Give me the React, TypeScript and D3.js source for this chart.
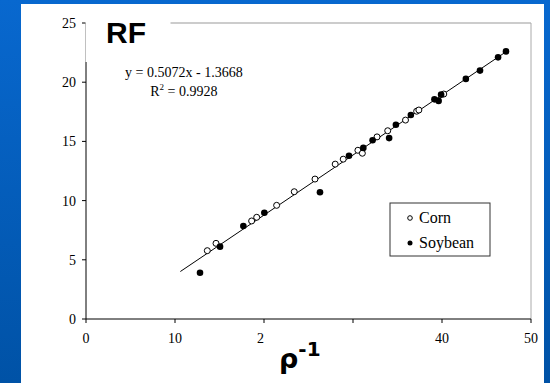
import React from 'react';
import * as d3 from 'd3';

// values
const cornX = [13.63, 14.61, 18.61, 19.18, 21.42, 23.4, 25.73, 28.0, 28.9, 30.55, 31.05, 32.7, 33.9, 35.9, 37.15, 37.4, 40.2];
const cornY = [5.77, 6.39, 8.28, 8.59, 9.6, 10.75, 11.82, 13.08, 13.5, 14.25, 14.0, 15.38, 15.9, 16.8, 17.55, 17.65, 19.0];
const soyX = [12.81, 15.06, 17.68, 20.04, 26.29, 29.55, 31.16, 32.2, 34.06, 34.82, 36.5, 39.15, 39.62, 39.9, 42.68, 44.27, 46.3, 47.19];
const soyY = [3.91, 6.11, 7.85, 8.98, 10.7, 13.79, 14.45, 15.1, 15.28, 16.41, 17.23, 18.55, 18.42, 18.95, 20.28, 20.98, 22.1, 22.6];
const fitSlope = 0.5072;
const fitIntercept = -1.3668;
const fitRange = [10.6, 47.3];
const xTicks = [0, 10, 20, 30, 40, 50];
const xTickLabels = ['0', '10', '2', '', '40', '50'];
const yTicks = [0, 5, 10, 15, 20, 25];

const W = 550;
const H = 383;
const margin = { top: 23, right: 19, bottom: 64, left: 86 };
const innerW = W - margin.left - margin.right;
const innerH = H - margin.top - margin.bottom;

const serif = '"Liberation Serif", "Times New Roman", serif';

export default function App() {
  const x = d3.scaleLinear().domain([0, 50]).range([0, innerW]);
  const y = d3.scaleLinear().domain([0, 25]).range([innerH, 0]);

  const corn = cornX.map((v, i) => ({ x: v, y: cornY[i] }));
  const soy = soyX.map((v, i) => ({ x: v, y: soyY[i] }));

  const fitLine = d3.line<number>()
    .x(d => x(d))
    .y(d => y(fitSlope * d + fitIntercept));

  return (
    <svg width={W} height={H} style={{ position: 'absolute', left: 0, top: 0 }}>
      <defs>
        <linearGradient id="bg" x1="0" y1="0" x2="0" y2="1">
          <stop offset="0" stopColor="#0868cf" />
          <stop offset="1" stopColor="#0052a6" />
        </linearGradient>
      </defs>
      <rect width={W} height={H} fill="url(#bg)" />
      <rect x={21} y={4} width={523} height={H - 4} fill="#fff" />

      <g transform={`translate(${margin.left},${margin.top})`}>
        {/* frame */}
        <line x1={0} x2={innerW} y1={0} y2={0} stroke="#999" />
        <line x1={innerW} x2={innerW} y1={0} y2={innerH} stroke="#aaa" />
        <line x1={0} x2={innerW} y1={innerH} y2={innerH} stroke="#000" />
        <line x1={0} x2={0} y1={0} y2={innerH} stroke="#000" />

        {/* y axis */}
        {yTicks.map(t => (
          <g key={'y' + t} transform={`translate(0,${y(t)})`}>
            <line x1={-4} x2={0} stroke="#000" />
            <text x={-10} dy="0.35em" textAnchor="end" fontFamily={serif} fontSize={14}>{t}</text>
          </g>
        ))}

        {/* x axis */}
        {xTicks.map((t, i) => (
          <g key={'x' + t} transform={`translate(${x(t)},${innerH})`}>
            <line y1={0} y2={4} stroke="#000" />
            <text y={24} textAnchor={xTickLabels[i] === '2' ? 'end' : 'middle'} fontFamily={serif} fontSize={14}>
              {xTickLabels[i]}
            </text>
          </g>
        ))}

        {/* regression line */}
        <path d={fitLine(fitRange) || ''} fill="none" stroke="#000" strokeWidth={1} />

        {corn.map((d, i) => (
          <circle key={'c' + i} cx={x(d.x)} cy={y(d.y)} r={3} fill="#fff" stroke="#000" strokeWidth={1} />
        ))}
        {soy.map((d, i) => (
          <circle key={'s' + i} cx={x(d.x)} cy={y(d.y)} r={3.3} fill="#000" />
        ))}

        {/* white block behind RF */}
        <rect x={-0.5} y={-8} width={85} height={47} fill="#fff" />

        <text x={x(11)} y={54} textAnchor="middle" fontFamily={serif} fontSize={14}>y = 0.5072x - 1.3668</text>
        <text x={x(11)} y={72.5} textAnchor="middle" fontFamily={serif} fontSize={14}>
          R<tspan dy={-6} fontSize={9}>2</tspan><tspan dy={6}> = 0.9928</tspan>
        </text>

        {/* legend */}
        <g transform={`translate(${304},${180})`}>
          <rect width={100} height={53} fill="#fff" stroke="#333" />
          <circle cx={20} cy={15} r={2.3} fill="#fff" stroke="#000" />
          <text x={29} y={20} fontFamily={serif} fontSize={16}>Corn</text>
          <circle cx={20} cy={40} r={2.5} fill="#000" />
          <text x={29} y={45} fontFamily={serif} fontSize={16}>Soybean</text>
        </g>
      </g>

      <text x={106} y={43} fontFamily='"Liberation Sans", Arial, sans-serif' fontWeight="bold" fontSize={30}>RF</text>
      <text x={279} y={368} fontFamily='"DejaVu Sans", sans-serif' fontWeight="bold" fontSize={27}>
        ρ<tspan dy={-12} fontSize={20}>-1</tspan>
      </text>
    </svg>
  );
}
